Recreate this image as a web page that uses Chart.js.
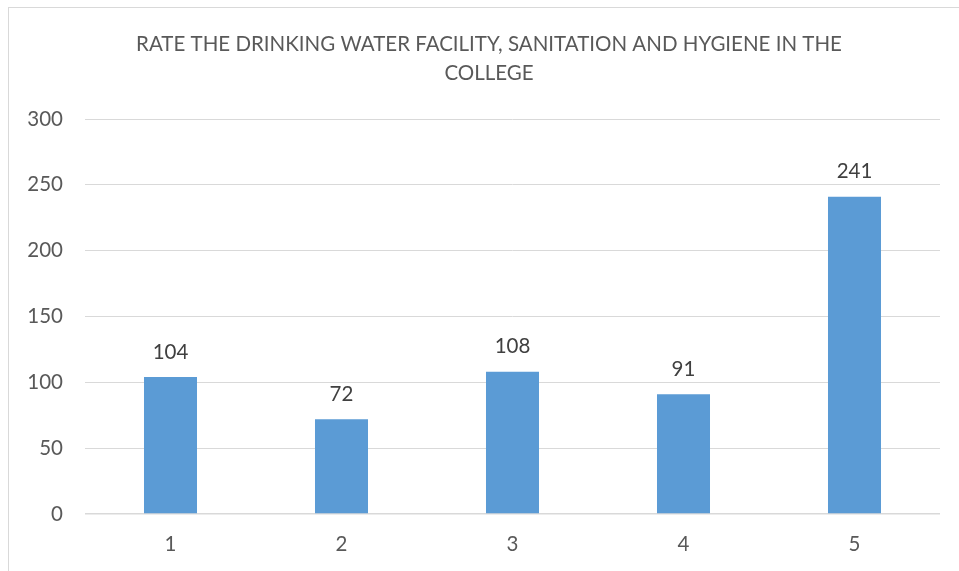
<!DOCTYPE html>
<html>
<head>
<meta charset="utf-8">
<script src="https://cdn.jsdelivr.net/npm/chart.js@4.4.0/dist/chart.umd.min.js"></script>
<style>
  html, body { margin: 0; padding: 0; background: #fff; }
  #wrap { position: relative; width: 959px; height: 571px; overflow: hidden; }
  #frame { position: absolute; left: 8px; top: 7px; width: 1000px; height: 1000px; border-left: 1px solid #d9d9d9; border-top: 1px solid #d9d9d9; }
  canvas { position: absolute; left: 0; top: 0; }
</style>
</head>
<body>
<div id="wrap">
  <div id="frame"></div>
  <canvas id="grafico" width="959" height="571"></canvas>
</div>
<script>
// dados
const categorias = ['1', '2', '3', '4', '5'];
const respostas = [104, 72, 108, 91, 241];
const tituloLinhas = ['RATE THE DRINKING WATER FACILITY, SANITATION AND HYGIENE IN THE', 'COLLEGE'];

const fonte = 'Lato, "Open Sans", sans-serif';
const tamanho = 20.5;

// título em duas linhas, centralizado como no original
const tituloPlugin = {
    id: 'tituloPlugin',
    afterDraw(chart) {
        const ctx = chart.ctx;
        ctx.save();
        ctx.fillStyle = '#595959';
        ctx.font = tamanho + 'px ' + fonte;
        ctx.textAlign = 'center';
        ctx.textBaseline = 'middle';
        ctx.fillText(tituloLinhas[0], 489, 44);
        ctx.fillText(tituloLinhas[1], 489, 73);
        ctx.restore();
    }
};

// rótulos de valor em cima das barras
const rotulosPlugin = {
    id: 'rotulosPlugin',
    afterDatasetsDraw(chart) {
        const ctx = chart.ctx;
        const meta = chart.getDatasetMeta(0);
        ctx.save();
        ctx.fillStyle = '#404040';
        ctx.font = tamanho + 'px ' + fonte;
        ctx.textAlign = 'center';
        ctx.textBaseline = 'middle';
        meta.data.forEach((bar, i) => {
            ctx.fillText(String(respostas[i]), bar.x, bar.y - 25);
        });
        ctx.restore();
    }
};

new Chart(document.getElementById('grafico').getContext('2d'), {
    type: 'bar',
    data: {
        labels: categorias,
        datasets: [{
            data: respostas,
            backgroundColor: '#5b9bd5',
            borderWidth: 0,
            categoryPercentage: 1,
            barPercentage: 0.31
        }]
    },
    options: {
        responsive: false,
        animation: false,
        layout: { padding: { left: 0, right: 19, top: 119, bottom: 0 } },
        plugins: { legend: { display: false }, tooltip: { enabled: false } },
        scales: {
            x: {
                grid: { display: false, drawTicks: false },
                border: { display: false },
                ticks: { color: '#595959', font: { family: fonte, size: tamanho }, padding: 18 },
                afterFit(scale) { scale.height = 57; }
            },
            y: {
                min: 0,
                max: 300,
                ticks: { stepSize: 50, color: '#595959', font: { family: fonte, size: tamanho }, padding: 22 },
                grid: {
                    color: '#d9d9d9',
                    lineWidth: (c) => (c.tick && c.tick.value === 0 ? 1.5 : 1),
                    drawTicks: false
                },
                border: { display: false },
                afterFit(scale) { scale.width = 85; }
            }
        }
    },
    plugins: [tituloPlugin, rotulosPlugin]
});
</script>
</body>
</html>
